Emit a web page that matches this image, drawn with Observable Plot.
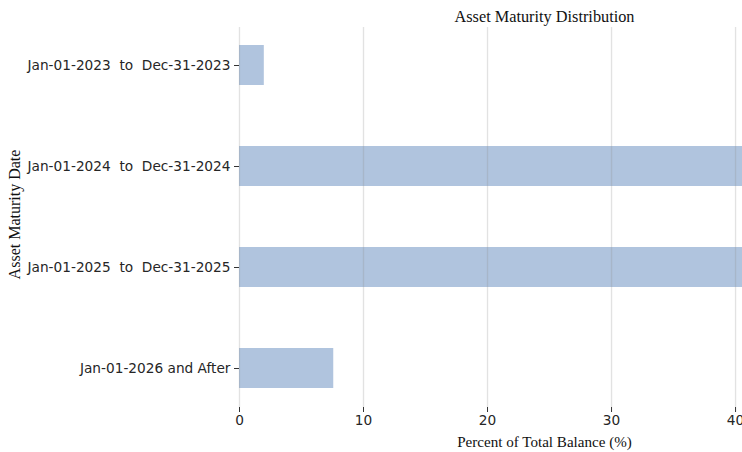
<!DOCTYPE html>
<html>
<head>
<meta charset="utf-8">
<script src="https://cdn.jsdelivr.net/npm/d3@7"></script>
<script src="https://cdn.jsdelivr.net/npm/@observablehq/plot@0.6"></script>
<style>
  html, body { margin: 0; padding: 0; background: white; }
  svg text { white-space: pre; }
</style>
</head>
<body>
<div id="chart"></div>
<script>
const categories = [
  "Jan-01-2023  to  Dec-31-2023",
  "Jan-01-2024  to  Dec-31-2024",
  "Jan-01-2025  to  Dec-31-2025",
  "Jan-01-2026 and After"
];
const values = [2.0, 45.2, 45.2, 7.6];
const xTicks = [0, 10, 20, 30, 40];
const titleText = "Asset Maturity Distribution";
const xLabelText = "Percent of Total Balance (%)";
const yLabelText = "Asset Maturity Date";

const data = categories.map((c, i) => ({cat: c, value: values[i]}));
const serif = "Liberation Serif, Times New Roman, serif";

const chart = Plot.plot({
  width: 742,
  height: 452,
  marginLeft: 239,
  marginRight: 0,
  marginTop: 27,
  marginBottom: 45,
  x: {domain: [0, 40.56]},
  y: {domain: categories, paddingInner: 0.6, paddingOuter: 0.175},
  style: {fontFamily: "DejaVu Sans", fontSize: "13.7px", color: "#262626", background: "white"},
  marks: [
    Plot.barX(data, {x: "value", y: "cat", fill: "#b0c4de", clip: true}),
    Plot.gridX(xTicks, {stroke: "#8c8c8c", strokeOpacity: 0.25, strokeWidth: 1.3}),
    Plot.axisX(xTicks, {tickSize: 5, tickPadding: 3, label: null, stroke: "#333"}),
    Plot.axisY({tickSize: 5, tickPadding: 4, label: null, stroke: "#333",
      tickFormat: d => d.replace(/ /g, "\u00a0")}),
    Plot.text([titleText], {text: d => d, frameAnchor: "top-left", dx: 305, dy: -6,
      lineAnchor: "bottom", textAnchor: "middle", fontFamily: serif, fontSize: 16.3, fill: "#111"}),
    Plot.text([xLabelText], {text: d => d, frameAnchor: "bottom-left", dx: 305, dy: 39,
      lineAnchor: "bottom", textAnchor: "middle", fontFamily: serif, fontSize: 15.1, fill: "#111"}),
    Plot.text([yLabelText], {text: d => d, frameAnchor: "left", dx: -225, dy: -3,
      rotate: -90, textAnchor: "middle", fontFamily: serif, fontSize: 16, fill: "#111"})
  ]
});
document.getElementById("chart").appendChild(chart);
</script>
</body>
</html>
